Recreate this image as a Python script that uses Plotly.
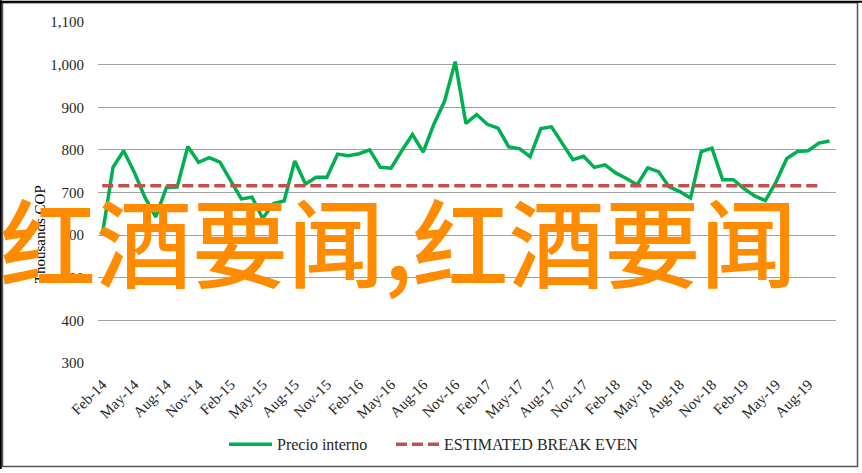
import plotly.graph_objects as go
import pandas as pd

# ---- data ----
months = list(pd.date_range("2014-02-01", "2019-10-01", freq="MS").strftime("%b-%y"))
precio_interno = [600, 759, 798, 747, 688, 643, 712, 713, 808, 771, 782,
                  771, 728, 685, 689, 639, 674, 680, 774, 720, 736, 736, 790,
                  786, 791, 800, 759, 757, 798, 836, 795, 860, 914, 1007, 862,
                  883, 860, 851, 807, 803, 784, 850, 854, 815, 777, 785, 759,
                  765, 746, 733, 718, 758, 749, 713, 702, 687, 796, 804, 730,
                  730, 709, 692, 681, 725, 780, 796, 798, 816, 821]
break_even_months = months[:68]
break_even = [716] * 68
tick_labels = months[::3]
y_ticks = [300, 400, 500, 600, 700, 800, 900, 1000, 1100]

W, H = 862, 473
L, R, T, B = 98, 26, 22, 107
pw, ph = W - L - R, H - T - B

def px(x):
    return (x - L) / pw

def py(y):
    return (H - B - y) / ph

serif = "Liberation Serif"
legend_font = dict(family=serif, size=16, color="#262626")

fig = go.Figure()
fig.add_trace(go.Scatter(
    x=months, y=precio_interno, mode="lines", name="Precio interno",
    line=dict(color="#00B050", width=3.5), legend="legend"))
fig.add_trace(go.Scatter(
    x=break_even_months, y=break_even, mode="lines", name="ESTIMATED BREAK EVEN",
    line=dict(color="#C0504D", width=3.5, dash="11px,5px"), legend="legend2"))

fig.update_layout(
    width=W, height=H,
    margin=dict(l=L, r=R, t=T, b=B, pad=0),
    paper_bgcolor="white", plot_bgcolor="white",
    font=dict(family=serif, size=15, color="#262626"),
    showlegend=True,
    legend=dict(orientation="h", x=px(224), y=py(448), xanchor="left", yanchor="middle",
                itemwidth=43, font=legend_font, bgcolor="rgba(0,0,0,0)"),
    legend2=dict(orientation="h", x=px(391), y=py(448), xanchor="left", yanchor="middle",
                 itemwidth=43, font=legend_font, bgcolor="rgba(0,0,0,0)"),
    xaxis=dict(type="category", categoryorder="array", categoryarray=months,
               range=[-0.4, 68.6], tickmode="array", tickvals=tick_labels, ticktext=tick_labels,
               tickangle=-45, showgrid=False, zeroline=False, showline=False, ticks="",
               automargin=False, ticklabelstandoff=9,
               tickfont=dict(family=serif, size=15, color="#262626")),
    yaxis=dict(range=[300, 1100], tickvals=y_ticks, tickformat=",", showgrid=True,
               gridcolor="#A0A0A0", gridwidth=1.4, zeroline=False, showline=False,
               ticks="", automargin=False, ticklabelstandoff=13,
               tickfont=dict(family=serif, size=15, color="#262626")),
)

fig.add_annotation(text="Thousands COP", xref="paper", yref="paper", x=px(40), y=py(236),
                   textangle=-90, showarrow=False, xanchor="center", yanchor="middle",
                   font=dict(family=serif, size=15, color="#000000"))

fig.add_annotation(text="红酒要闻,红酒要闻", xref="paper", yref="paper", x=px(398), y=py(240),
                   showarrow=False, xanchor="center", yanchor="middle",
                   font=dict(family="Noto Sans CJK SC", size=96, color="#FF8C00", weight=500))

# frame
fig.add_shape(type="rect", xref="paper", yref="paper",
              x0=px(2.5), x1=px(857.5), y0=py(470.5), y1=py(2.5),
              line=dict(color="#555555", width=1.5), layer="above")
fig.add_shape(type="line", xref="paper", yref="paper",
              x0=px(0.8), x1=px(0.8), y0=py(473), y1=py(0),
              line=dict(color="#000000", width=2), layer="above")
fig.add_shape(type="line", xref="paper", yref="paper",
              x0=px(0), x1=px(862), y0=py(1.5), y1=py(1.5),
              line=dict(color="#000000", width=2), layer="above")

fig.write_html("out.html", config={"displayModeBar": False},
               post_script="document.body.style.margin='0';")
